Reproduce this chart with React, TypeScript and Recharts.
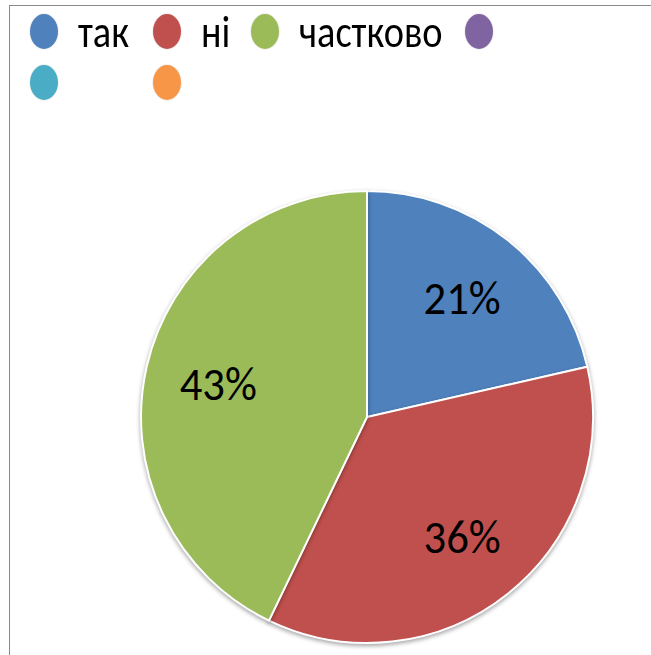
import { PieChart, Pie, Cell, Legend } from "recharts";

const categories = ["так", "ні", "частково", "", "", ""];
const values = [3, 5, 6, 0, 0, 0];
const colors = ["#4F81BD", "#C0504D", "#9BBB59", "#8064A2", "#4BACC6", "#F79646"];

// legend slot positions (Excel's wrapped legend)
const legendSlots = [
  { x: 30, y: 14 },
  { x: 153, y: 14 },
  { x: 251, y: 14 },
  { x: 465, y: 14 },
  { x: 30, y: 65 },
  { x: 153, y: 65 },
];

const pieData = categories
  .map((name, i) => ({ name, value: values[i], color: colors[i] }))
  .filter((d) => d.value > 0);

const RADIAN = Math.PI / 180;
const FONT = "Carlito, Calibri, 'Noto Sans', sans-serif";

const renderLabel = (props: any) => {
  const { cx, cy, midAngle, outerRadius, percent } = props;
  const r = outerRadius * 0.675;
  const x = cx + r * Math.cos(-midAngle * RADIAN);
  const y = cy + r * Math.sin(-midAngle * RADIAN);
  return (
    <text
      transform={`translate(${x},${y}) scale(0.93,1)`}
      fill="#000"
      textAnchor="middle"
      dominantBaseline="central"
      fontSize={48}
      fontFamily={FONT}
    >
      {`${Math.round(percent * 100)}%`}
    </text>
  );
};

const LegendContent = () => (
  <div style={{ position: "relative", width: 651, height: 110 }}>
    {categories.map((name, i) => (
      <div key={i} style={{ position: "absolute", left: legendSlots[i].x, top: legendSlots[i].y, display: "flex", alignItems: "center" }}>
        <span
          style={{
            display: "inline-block",
            width: 28,
            height: 35,
            borderRadius: "50%",
            background: colors[i],
            boxShadow: "0 0 0 1px #f2f2f2",
          }}
        />
        {name && (
          <span
            style={{
              marginLeft: 20,
              fontSize: 45,
              fontFamily: FONT,
              color: "#000",
              lineHeight: "35px",
              display: "inline-block",
              transform: "scaleX(0.853)",
              transformOrigin: "left center",
              whiteSpace: "nowrap",
            }}
          >
            {name}
          </span>
        )}
      </div>
    ))}
  </div>
);

export default function App() {
  return (
    <div style={{ position: "absolute", left: 0, top: 0, width: 651, height: 655, overflow: "hidden", background: "#fff" }}>
      <style>{`.recharts-pie-sector { filter: drop-shadow(0px 2px 2px rgba(0,0,0,0.35)); }`}</style>
      <div style={{ position: "absolute", left: 9, top: 5, width: 700, height: 700, border: "1.5px solid #8a8a8a" }} />
      <div style={{ position: "absolute", left: 0, top: 0 }}>
        <PieChart width={651} height={655} margin={{ top: 0, right: 0, bottom: 0, left: 0 }}>
          <Pie
            data={pieData}
            dataKey="value"
            nameKey="name"
            cx={367}
            cy={417}
            outerRadius={226}
            startAngle={90}
            endAngle={-270}
            stroke="#fff"
            strokeWidth={2}
            label={renderLabel}
            labelLine={false}
            isAnimationActive={false}
          >
            {pieData.map((d, i) => (
              <Cell key={i} fill={d.color} />
            ))}
          </Pie>
          <Legend content={<LegendContent />} wrapperStyle={{ top: 0, left: 0, width: 651 }} />
        </PieChart>
      </div>
    </div>
  );
}
